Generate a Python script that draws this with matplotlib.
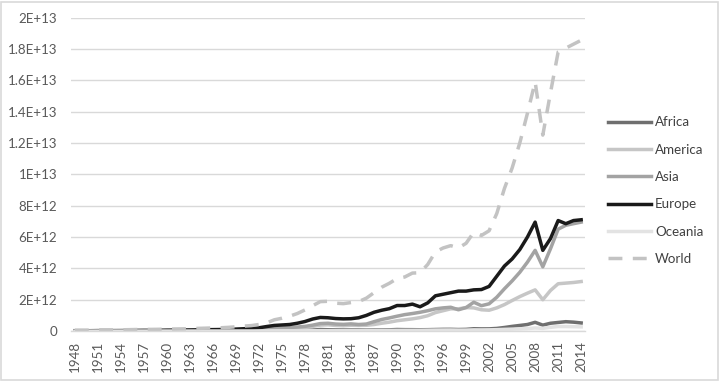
import matplotlib
matplotlib.use('Agg')
import matplotlib.pyplot as plt
import matplotlib.patches as patches
import numpy as np

plt.rcParams['font.family'] = ['Lato', 'DejaVu Sans']

years = list(range(1948, 2015))

# values in units of 1E+12
africa = [0.004, 0.004, 0.004, 0.005, 0.005, 0.005, 0.005, 0.006, 0.006, 0.006, 0.006,
          0.007, 0.007, 0.007, 0.008, 0.008, 0.009, 0.009, 0.010, 0.010, 0.011, 0.012,
          0.013, 0.014, 0.017, 0.022, 0.030, 0.032, 0.038, 0.043, 0.050, 0.065,
          0.100, 0.085, 0.075, 0.070, 0.070, 0.068, 0.062, 0.068, 0.072, 0.080,
          0.100, 0.092, 0.090, 0.085, 0.090, 0.100, 0.110, 0.112, 0.100, 0.110,
          0.150, 0.140, 0.142, 0.170, 0.230, 0.300, 0.360, 0.420, 0.560, 0.380,
          0.500, 0.550, 0.600, 0.570, 0.520]
america = [0.030, 0.030, 0.030, 0.032, 0.033, 0.033, 0.034, 0.035, 0.038, 0.040, 0.040,
           0.041, 0.043, 0.044, 0.045, 0.048, 0.050, 0.053, 0.056, 0.058, 0.062, 0.066,
           0.072, 0.078, 0.090, 0.120, 0.160, 0.170, 0.190, 0.210, 0.240, 0.300,
           0.380, 0.400, 0.360, 0.340, 0.370, 0.360, 0.370, 0.420, 0.500, 0.570,
           0.660, 0.720, 0.780, 0.860, 0.980, 1.180, 1.300, 1.420, 1.420, 1.500,
           1.480, 1.360, 1.330, 1.480, 1.690, 1.950, 2.200, 2.420, 2.630, 2.000,
           2.590, 3.020, 3.060, 3.100, 3.160]
asia = [0.012, 0.012, 0.013, 0.016, 0.016, 0.016, 0.017, 0.018, 0.020, 0.022, 0.021,
        0.022, 0.025, 0.026, 0.027, 0.029, 0.032, 0.036, 0.039, 0.041, 0.046, 0.052,
        0.060, 0.070, 0.090, 0.130, 0.180, 0.200, 0.230, 0.260, 0.300, 0.380,
        0.480, 0.500, 0.450, 0.430, 0.460, 0.420, 0.450, 0.600, 0.740, 0.840,
        0.950, 1.050, 1.120, 1.200, 1.300, 1.420, 1.480, 1.520, 1.360, 1.500,
        1.840, 1.620, 1.740, 2.160, 2.700, 3.200, 3.750, 4.400, 5.150, 4.100,
        5.250, 6.500, 6.750, 6.850, 6.950]
europe = [0.020, 0.021, 0.022, 0.028, 0.028, 0.028, 0.030, 0.035, 0.040, 0.045, 0.045,
          0.048, 0.058, 0.062, 0.066, 0.072, 0.080, 0.088, 0.094, 0.100, 0.110, 0.128,
          0.150, 0.170, 0.210, 0.290, 0.360, 0.390, 0.420, 0.500, 0.610, 0.770,
          0.870, 0.850, 0.800, 0.780, 0.790, 0.850, 1.000, 1.200, 1.330, 1.430,
          1.630, 1.630, 1.720, 1.550, 1.800, 2.250, 2.350, 2.450, 2.550, 2.550,
          2.630, 2.650, 2.850, 3.500, 4.150, 4.600, 5.200, 6.000, 6.950, 5.150,
          5.900, 7.050, 6.850, 7.050, 7.100]
oceania = [0.003, 0.003, 0.003, 0.004, 0.004, 0.004, 0.004, 0.004, 0.004, 0.004, 0.004,
           0.004, 0.005, 0.005, 0.005, 0.005, 0.006, 0.006, 0.006, 0.006, 0.007, 0.007,
           0.008, 0.008, 0.010, 0.013, 0.016, 0.017, 0.018, 0.019, 0.020, 0.024,
           0.028, 0.028, 0.026, 0.025, 0.027, 0.026, 0.027, 0.031, 0.037, 0.041,
           0.044, 0.046, 0.047, 0.049, 0.056, 0.063, 0.066, 0.068, 0.060, 0.062,
           0.078, 0.075, 0.080, 0.090, 0.110, 0.125, 0.140, 0.160, 0.200, 0.175,
           0.240, 0.290, 0.290, 0.280, 0.270]
world = [0.060, 0.060, 0.062, 0.080, 0.080, 0.080, 0.082, 0.090, 0.100, 0.110, 0.108,
         0.115, 0.130, 0.134, 0.141, 0.153, 0.172, 0.186, 0.203, 0.212, 0.238, 0.272,
         0.317, 0.350, 0.420, 0.520, 0.720, 0.820, 0.950, 1.120, 1.350, 1.620,
         1.880, 1.900, 1.780, 1.750, 1.820, 1.880, 2.100, 2.450, 2.800, 3.050,
         3.350, 3.450, 3.700, 3.720, 4.250, 5.050, 5.300, 5.450, 5.300, 5.600,
         6.300, 6.100, 6.400, 7.500, 9.100, 10.400, 12.000, 13.900, 15.900, 12.500,
         15.200, 17.800, 18.050, 18.300, 18.550]

series_names = ['Africa', 'America', 'Asia', 'Europe', 'Oceania', 'World']
series_values = [africa, america, asia, europe, oceania, world]
series_colors = ['#6f6f6f', '#c6c6c6', '#a3a3a3', '#1a1a1a', '#e3e3e3', '#c3c3c3']

y_ticks = [0, 2e12, 4e12, 6e12, 8e12, 1e13, 1.2e13, 1.4e13, 1.6e13, 1.8e13, 2e13]
y_tick_labels = ['0', '2E+12', '4E+12', '6E+12', '8E+12', '1E+13',
                 '1.2E+13', '1.4E+13', '1.6E+13', '1.8E+13', '2E+13']

# Create figure and axis
fig = plt.figure(figsize=(7.2, 3.81), dpi=100)
fig.patch.set_facecolor('white')
ax = fig.add_axes([0.0986, 0.131, 0.7139, 0.823])

x = np.arange(len(years))
for name, vals, color in zip(series_names, series_values, series_colors):
    y = np.array(vals) * 1e12
    if name == 'World':
        ax.plot(x, y, color=color, linewidth=2.5, label=name,
                linestyle=(0, (4, 3)), dash_capstyle='butt')
    else:
        ax.plot(x, y, color=color, linewidth=2.5, label=name,
                solid_joinstyle='round')

# Axis setup
ax.set_xlim(-0.5, len(years) - 0.5)
ax.set_ylim(0, 2e13)
ax.set_yticks(y_ticks)
ax.set_yticklabels(y_tick_labels)
ax.set_xticks(x[::3])
ax.set_xticklabels([str(yr) for yr in years[::3]], rotation=90)
ax.tick_params(axis='both', length=0, labelsize=9.6, colors='#595959')
ax.tick_params(axis='y', pad=10)
ax.tick_params(axis='x', pad=7)

ax.grid(True, axis='y', color='#d9d9d9', linewidth=1)
ax.set_axisbelow(True)
for side in ['top', 'right', 'left']:
    ax.spines[side].set_visible(False)
ax.spines['bottom'].set_color('#d9d9d9')
ax.spines['bottom'].set_linewidth(1)

# Legend on the right
leg = fig.legend(loc='center left', bbox_to_anchor=(0.845, 0.5), frameon=False,
                 fontsize=9.6, handlelength=3.2, handletextpad=0.3, labelspacing=1.15,
                 borderpad=0, borderaxespad=0)
for txt in leg.get_texts():
    txt.set_color('#404040')

# Light border around the whole chart
border = patches.Rectangle((0.002, 0.003), 0.995, 0.992, transform=fig.transFigure,
                           fill=False, edgecolor='#d9d9d9', linewidth=1.2)
fig.patches.append(border)

fig.savefig('out.png', dpi=100)
